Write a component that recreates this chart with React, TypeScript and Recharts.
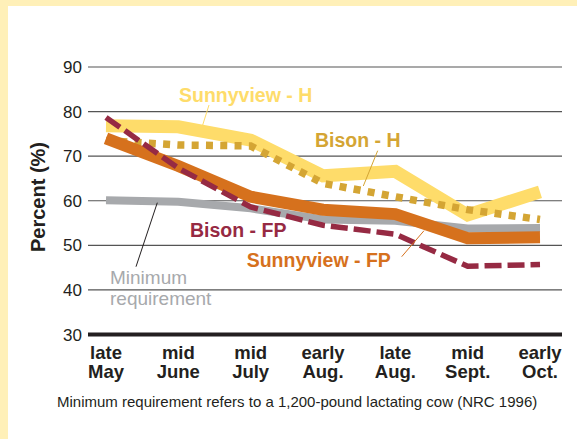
import React from "react";
import {
  CartesianGrid,
  Line,
  LineChart,
  ReferenceLine,
  XAxis,
  YAxis,
} from "recharts";

const periods = [
  "late May",
  "mid June",
  "mid July",
  "early Aug.",
  "late Aug.",
  "mid Sept.",
  "early Oct.",
];
const tickTop = ["late", "mid", "mid", "early", "late", "mid", "early"];
const tickBottom = ["May", "June", "July", "Aug.", "Aug.", "Sept.", "Oct."];
const yTicks = [30, 40, 50, 60, 70, 80, 90];

const sunnyviewH = [76.8, 76.6, 73.6, 65.6, 66.6, 56.8, 62.0];
const bisonH = [73.5, 72.5, 72.3, 63.9, 60.9, 58.0, 55.8];
const sunnyviewFP = [74.0, 67.8, 60.9, 58.0, 57.0, 51.6, 51.8];
const bisonFP = [78.7, 67.3, 58.6, 54.5, 52.5, 45.3, 45.7];
const minimumReq = [60.1, 59.8, 58.3, 55.8, 55.5, 53.8, 53.9];

const FONT = '"Liberation Sans", Arial, Helvetica, sans-serif';
const INK = "#231f20";

const data = periods.map((p, i) => ({
  period: p,
  sunnyviewH: sunnyviewH[i],
  bisonH: bisonH[i],
  sunnyviewFP: sunnyviewFP[i],
  bisonFP: bisonFP[i],
  minimum: minimumReq[i],
}));

function PeriodTick(props: any) {
  const { x, y, index } = props;
  return (
    <text
      x={x}
      y={y}
      textAnchor="middle"
      fontFamily={FONT}
      fontWeight="bold"
      fontSize={18.5}
      fill={INK}
    >
      <tspan x={x} dy={24.5}>
        {tickTop[index]}
      </tspan>
      <tspan x={x} dy={19}>
        {tickBottom[index]}
      </tspan>
    </text>
  );
}

export default function App() {
  return (
    <div
      style={{
        position: "absolute",
        left: 0,
        top: 0,
        width: 577,
        height: 439,
        background: "#fff0b8",
        overflow: "hidden",
      }}
    >
      <div
        style={{
          position: "absolute",
          left: 8,
          top: 6,
          width: 569,
          height: 433,
          background: "#ffffff",
        }}
      />
      <div style={{ position: "absolute", left: 0, top: 0 }}>
        <LineChart
          width={577}
          height={439}
          data={data}
          margin={{ top: 67, right: 15, bottom: 44.5, left: 0 }}
        >
          <CartesianGrid vertical={false} stroke="#555" strokeWidth={1.1} />
          <XAxis
            dataKey="period"
            axisLine={false}
            tickLine={false}
            tickSize={0}
            tickMargin={0}
            height={60}
            interval={0}
            padding={{ left: 18, right: 22 }}
            tick={<PeriodTick />}
          />
          <YAxis
            domain={[30, 90]}
            ticks={yTicks}
            interval={0}
            width={88}
            axisLine={false}
            tickLine={false}
            tickMargin={0}
            tick={{ fontSize: 17, fill: INK, fontFamily: FONT }}
          />
          <ReferenceLine y={30} stroke={INK} strokeWidth={4} />
          <Line
            dataKey="minimum"
            stroke="#a7a9ac"
            strokeWidth={8}
            dot={false}
            activeDot={false}
            isAnimationActive={false}
          />
          <Line
            dataKey="sunnyviewH"
            stroke="#fedc6a"
            strokeWidth={13}
            dot={false}
            activeDot={false}
            isAnimationActive={false}
          />
          <Line
            dataKey="bisonH"
            stroke="#d4a534"
            strokeWidth={7.5}
            strokeDasharray="7 7.3"
            dot={false}
            activeDot={false}
            isAnimationActive={false}
          />
          <Line
            dataKey="sunnyviewFP"
            stroke="#d6711d"
            strokeWidth={12}
            dot={false}
            activeDot={false}
            isAnimationActive={false}
          />
          <Line
            dataKey="bisonFP"
            stroke="#962a43"
            strokeWidth={5.5}
            strokeDasharray="17 6"
            dot={false}
            activeDot={false}
            isAnimationActive={false}
          />
        </LineChart>
      </div>
      {/* series labels and leader lines */}
      <svg
        width={577}
        height={439}
        style={{ position: "absolute", left: 0, top: 0, pointerEvents: "none" }}
        fontFamily={FONT}
      >
        <text
          x={38}
          y={197}
          transform="rotate(-90 38 197)"
          textAnchor="middle"
          dominantBaseline="central"
          fontWeight="bold"
          fontSize={20}
          fill={INK}
        >
          Percent (%)
        </text>

        <line x1={209} y1={105} x2={202.7} y2={125} stroke="#fedc6a" strokeWidth={1} />
        <text x={179} y={102.3} fontWeight="bold" fontSize={19.5} fill="#fedc6a">
          Sunnyview - H
        </text>

        <line x1={377.7} y1={150.7} x2={363.3} y2={186} stroke="#d4a534" strokeWidth={1} />
        <text x={315} y={147.3} fontWeight="bold" fontSize={19.5} fill="#d4a534">
          Bison - H
        </text>

        <text x={190} y={237.3} fontWeight="bold" fontSize={19.5} fill="#962a43">
          Bison - FP
        </text>

        <line x1={401.7} y1={256.7} x2={424} y2={230.7} stroke="#d6711d" strokeWidth={1} />
        <text x={246.7} y={266.7} fontWeight="bold" fontSize={19.5} fill="#d6711d">
          Sunnyview - FP
        </text>

        <line x1={136} y1={266.7} x2={157.3} y2={202.7} stroke={INK} strokeWidth={1} />
        <text x={110} y={284} fontSize={19} fill="#a7a9ac">
          Minimum
        </text>
        <text x={110} y={305} fontSize={19} fill="#a7a9ac">
          requirement
        </text>

        <text x={57} y={407} fontSize={15} fill={INK}>
          Minimum requirement refers to a 1,200-pound lactating cow (NRC 1996)
        </text>
      </svg>
    </div>
  );
}
